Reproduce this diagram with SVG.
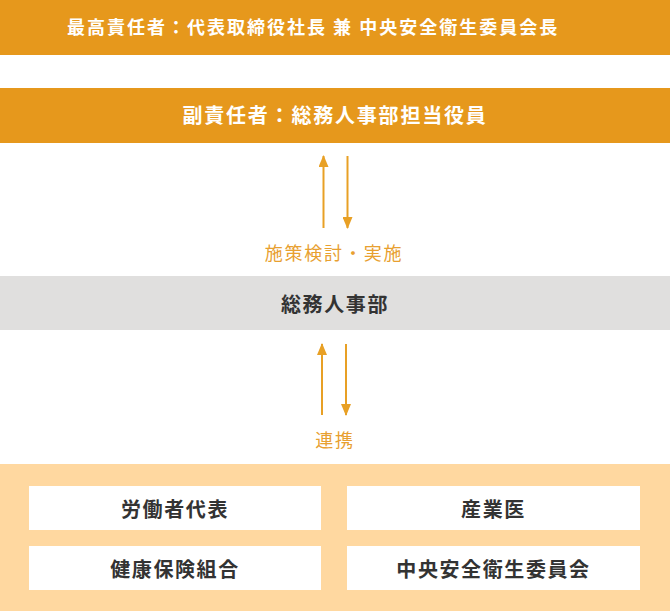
<svg xmlns="http://www.w3.org/2000/svg" width="671" height="612" viewBox="0 0 671 612">
<style>
.t{font-family:"Noto Sans CJK JP","Noto Sans",sans-serif;}
.w{fill:#ffffff;font-weight:bold;}
.d{fill:#333333;font-weight:bold;font-size:20px;letter-spacing:1.6px;}
.o{fill:#E8A030;font-size:18px;letter-spacing:1.8px;}
.ar{stroke:#E8A025;stroke-width:2;fill:none;}
.box{fill:#ffffff;}
</style>
<defs>
<marker id="ah" viewBox="0 0 12 10" refX="11" refY="5" markerWidth="12" markerHeight="10" markerUnits="userSpaceOnUse" orient="auto">
<path d="M0,0 L12,5 L0,10 Z" fill="#E8A025"/>
</marker>
</defs>
<g id="top">
<rect x="0" y="0" width="670" height="55" fill="#E6981C"/>
<text class="t w" x="67" y="33.5" font-size="18" letter-spacing="2">最高責任者：代表取締役社長 兼 中央安全衛生委員会長</text>
</g>
<g id="vice">
<rect x="0" y="88" width="670" height="55" fill="#E6981C"/>
<text class="t w" x="335" y="123" font-size="20" letter-spacing="1.8" text-anchor="middle">副責任者：総務人事部担当役員</text>
</g>
<g id="dept">
<rect x="0" y="276" width="670" height="54" fill="#E0DFDE"/>
<text class="t d" x="335" y="311.5" text-anchor="middle">総務人事部</text>
</g>
<g id="members">
<rect x="0" y="464" width="670" height="147" fill="#FFD8A0"/>
<g id="m1"><rect class="box" x="29" y="486" width="292" height="44"/><text class="t d" x="175" y="517" text-anchor="middle">労働者代表</text></g>
<g id="m2"><rect class="box" x="347" y="486" width="293" height="44"/><text class="t d" x="493.5" y="517" text-anchor="middle">産業医</text></g>
<g id="m3"><rect class="box" x="29" y="546" width="292" height="44"/><text class="t d" x="175" y="577" text-anchor="middle">健康保険組合</text></g>
<g id="m4"><rect class="box" x="347" y="546" width="293" height="44"/><text class="t d" x="493.5" y="577" text-anchor="middle">中央安全衛生委員会</text></g>
</g>
<g id="connectors">
<line class="ar" x1="323.5" y1="228" x2="323.5" y2="156" marker-end="url(#ah)"/>
<line class="ar" x1="347.5" y1="156" x2="347.5" y2="228" marker-end="url(#ah)"/>
<text class="t o" x="334" y="259.5" text-anchor="middle">施策検討・実施</text>
<line class="ar" x1="322" y1="415" x2="322" y2="344" marker-end="url(#ah)"/>
<line class="ar" x1="346" y1="344" x2="346" y2="415" marker-end="url(#ah)"/>
<text class="t o" x="335" y="446.5" text-anchor="middle">連携</text>
</g>
</svg>
